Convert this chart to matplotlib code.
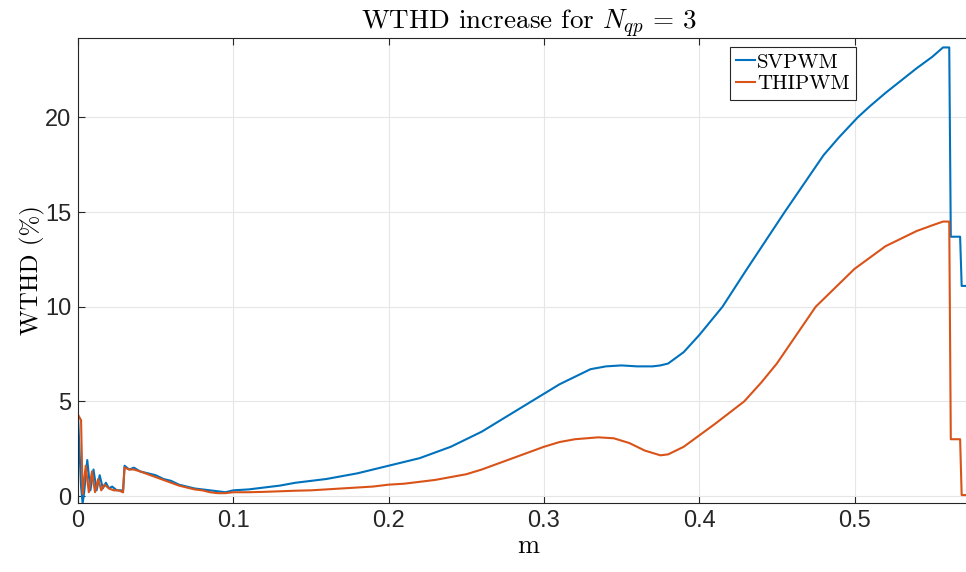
# WTHD increase for N_qp = 3 : SVPWM vs THIPWM
import matplotlib
matplotlib.use("Agg")
import matplotlib.pyplot as plt

plt.rcParams["mathtext.fontset"] = "cm"
plt.rcParams["axes.formatter.use_mathtext"] = True

m_sv = [0.0, 0.002, 0.003, 0.004, 0.006, 0.008, 0.010, 0.012, 0.014, 0.016, 0.018,
        0.020, 0.022, 0.025, 0.028, 0.029, 0.030, 0.033, 0.036, 0.040, 0.045,
        0.050, 0.055, 0.060, 0.065, 0.070, 0.075, 0.080, 0.085, 0.090, 0.095,
        0.100, 0.110, 0.120, 0.130, 0.140, 0.150, 0.160, 0.170, 0.180, 0.190,
        0.200, 0.210, 0.220, 0.230, 0.240, 0.250, 0.260, 0.270, 0.280, 0.290,
        0.300, 0.310, 0.320, 0.330, 0.340, 0.350, 0.360, 0.370, 0.375, 0.380,
        0.390, 0.400, 0.415, 0.430, 0.455, 0.470, 0.480, 0.490, 0.502, 0.510,
        0.520, 0.530, 0.540, 0.550, 0.557, 0.561, 0.562, 0.568, 0.569, 0.575]
wthd_sv = [4.3, 0.5, -0.4, 0.2, 1.9, 0.3, 1.4, 0.3, 1.1, 0.4, 0.7,
           0.4, 0.5, 0.3, 0.3, 0.2, 1.6, 1.4, 1.5, 1.3, 1.2,
           1.1, 0.9, 0.8, 0.6, 0.5, 0.4, 0.35, 0.3, 0.25, 0.2,
           0.3, 0.35, 0.45, 0.55, 0.7, 0.8, 0.9, 1.05, 1.2, 1.4,
           1.6, 1.8, 2.0, 2.3, 2.6, 3.0, 3.4, 3.9, 4.4, 4.9,
           5.4, 5.9, 6.3, 6.7, 6.85, 6.9, 6.85, 6.85, 6.9, 7.0,
           7.6, 8.5, 10.0, 11.9, 15.0, 16.8, 18.0, 18.95, 20.0, 20.6,
           21.3, 21.95, 22.6, 23.2, 23.7, 23.7, 13.7, 13.7, 11.1, 11.1]

m_thi = [0.0, 0.002, 0.003, 0.005, 0.007, 0.009, 0.011, 0.013, 0.015, 0.017, 0.020,
         0.023, 0.026, 0.029, 0.030, 0.033, 0.036, 0.040, 0.045, 0.050, 0.055,
         0.060, 0.065, 0.070, 0.075, 0.080, 0.085, 0.090, 0.095, 0.100, 0.110,
         0.120, 0.130, 0.140, 0.150, 0.160, 0.170, 0.180, 0.190, 0.200, 0.210,
         0.220, 0.230, 0.240, 0.250, 0.260, 0.270, 0.280, 0.290, 0.300, 0.310,
         0.320, 0.335, 0.345, 0.355, 0.365, 0.375, 0.380, 0.390, 0.400, 0.410,
         0.429, 0.440, 0.450, 0.460, 0.475, 0.490, 0.500, 0.510, 0.520, 0.530,
         0.540, 0.550, 0.557, 0.561, 0.562, 0.568, 0.569, 0.575]
wthd_thi = [4.3, 4.0, 0.1, 1.6, 0.2, 1.3, 0.2, 0.9, 0.3, 0.6, 0.4,
            0.3, 0.3, 0.2, 1.5, 1.4, 1.4, 1.3, 1.15, 1.0, 0.85,
            0.7, 0.55, 0.45, 0.35, 0.3, 0.2, 0.15, 0.15, 0.2, 0.2,
            0.22, 0.25, 0.28, 0.3, 0.35, 0.4, 0.45, 0.5, 0.6, 0.65,
            0.75, 0.85, 1.0, 1.15, 1.4, 1.7, 2.0, 2.3, 2.6, 2.85,
            3.0, 3.1, 3.05, 2.8, 2.4, 2.15, 2.2, 2.6, 3.2, 3.8,
            5.0, 6.0, 7.0, 8.2, 10.0, 11.2, 12.0, 12.6, 13.2, 13.6,
            14.0, 14.3, 14.5, 14.5, 3.0, 3.0, 0.05, 0.05]

fig = plt.figure(figsize=(9.66, 5.72), dpi=100)
ax = fig.add_axes([0.0807, 0.1206, 0.9325, 0.813])

ax.plot(m_sv, wthd_sv, color="#0072BD", linewidth=1.5, label="SVPWM")
ax.plot(m_thi, wthd_thi, color="#D95319", linewidth=1.5, label="THIPWM")

ax.set_xlim(0, 0.58)
ax.set_ylim(-0.37, 24.2)
ax.set_xticks([0, 0.1, 0.2, 0.3, 0.4, 0.5])
ax.set_xticklabels(["0", "0.1", "0.2", "0.3", "0.4", "0.5"])
ax.set_yticks([0, 5, 10, 15, 20])
ax.set_yticklabels(["0", "5", "10", "15", "20"])
ax.grid(True, color="#e6e6e6", linewidth=0.8)
ax.set_axisbelow(True)
ax.tick_params(direction="in", labelsize=17, length=5, colors="#262626",
               top=True, right=True, pad=5)
for lab in ax.get_xticklabels() + ax.get_yticklabels():
    lab.set_family("Liberation Sans")
for s in ax.spines.values():
    s.set_color("#262626")
    s.set_linewidth(0.8)

ax.set_title(r"WTHD increase for $N_{qp}\,=\,3$", fontsize=19.5, family="cmr10",
             pad=6)
ax.set_xlabel("m", fontsize=19, family="cmr10", labelpad=2)
ax.set_ylabel("WTHD (%)", fontsize=18, family="cmr10", labelpad=0)

leg = ax.legend(loc="upper left", bbox_to_anchor=(0.724, 0.981),
                prop={"family": "cmr10", "size": 15},
                handlelength=0.9, handletextpad=0.1, borderpad=0.3,
                labelspacing=0.15, borderaxespad=0, fancybox=False, framealpha=1)
leg.get_frame().set_edgecolor("#262626")
leg.get_frame().set_linewidth(0.8)

fig.savefig("out.png", dpi=100)
